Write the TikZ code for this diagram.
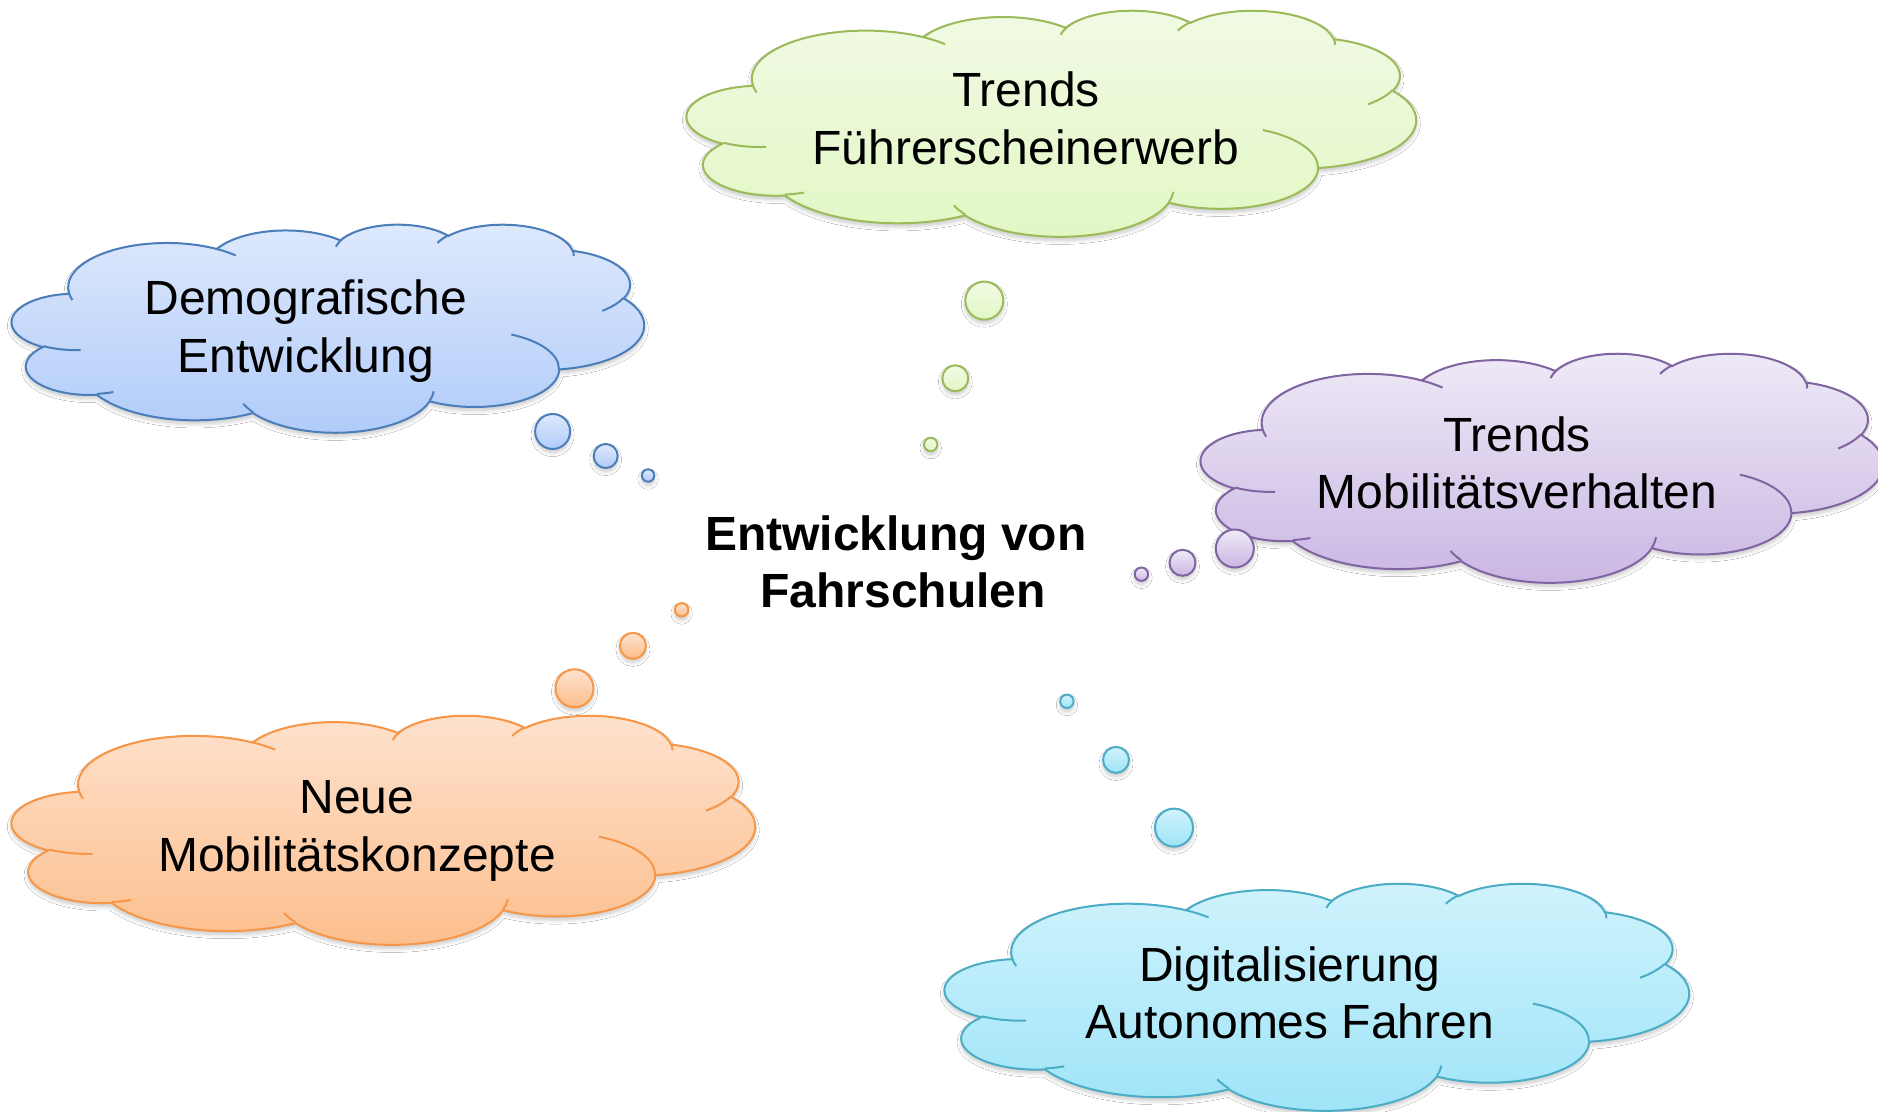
\documentclass[tikz,border=0pt]{standalone}
\usepackage{fontspec}
\setmainfont{Liberation Sans}
\usetikzlibrary{shadows.blur}
\definecolor{gstroke}{HTML}{9BBB59}\definecolor{gtop}{HTML}{F1FAE4}\definecolor{gbot}{HTML}{E2F7C4}
\definecolor{bstroke}{HTML}{4A7EBB}\definecolor{btop}{HTML}{DEE9FC}\definecolor{bbot}{HTML}{B0CBF9}
\definecolor{pstroke}{HTML}{8064A2}\definecolor{ptop}{HTML}{EFEAF7}\definecolor{pbot}{HTML}{C9B6E3}
\definecolor{ostroke}{HTML}{F79646}\definecolor{otop}{HTML}{FEE2CE}\definecolor{obot}{HTML}{FCBE8C}
\definecolor{cstroke}{HTML}{4BACC6}\definecolor{ctop}{HTML}{D0F3FC}\definecolor{cbot}{HTML}{9EE4F8}
\makeatletter
\newcommand\addcloudarc[5]{%
  \pgfmathparse{atan2((#2)*sin(#4),(#3)*cos(#4))}\let\cl@ta\pgfmathresult
  \pgfmathparse{atan2((#2)*sin((#4)+(#5)),(#3)*cos((#4)+(#5)))}\let\cl@tb\pgfmathresult
  \pgfmathparse{mod(\cl@tb-\cl@ta+720,360)}\let\cl@td\pgfmathresult
  \xdef#1{#1 arc[start angle=\cl@ta, delta angle=\cl@td, x radius=#2, y radius=#3]}%
}
\newcommand\addcloudpt[3]{\xdef#1{#1 (#2,#3)}}
\gdef\cloudmain{(3.9,14.37)}
\addcloudarc\cloudmain{6.753}{9.19}{-190.487483}{123.780533}
\addcloudarc\cloudmain{5.333}{7.267}{-144.102383}{89.945233}
\addcloudarc\cloudmain{4.365}{5.945}{-145.807917}{99.723017}
\addcloudarc\cloudmain{4.857}{6.595}{-130.986067}{117.241733}
\addcloudarc\cloudmain{5.333}{7.273}{-78.708883}{109.026917}
\addcloudarc\cloudmain{6.775}{9.22}{-46.26725}{130.269}
\addcloudarc\cloudmain{5.785}{7.867}{0.625017}{114.033333}
\addcloudarc\cloudmain{6.752}{9.215}{22.4516}{115.17255}
\addcloudarc\cloudmain{7.72}{10.543}{66.242633}{75.711017}
\addcloudarc\cloudmain{4.36}{5.918}{-274.942083}{146.735567}
\addcloudarc\cloudmain{4.345}{5.945}{-246.8285}{152.51695}
\gdef\cloudinner{}
\addcloudpt\cloudinner{4.693}{26.177}\addcloudarc\cloudinner{4.345}{5.945}{86.742}{26.4295}
\addcloudpt\cloudinner{6.928}{34.899}\addcloudarc\cloudinner{4.36}{5.918}{73.61047}{11.44747}
\addcloudpt\cloudinner{16.478}{39.09}\addcloudarc\cloudinner{6.752}{9.215}{137.62415}{14.0811}
\addcloudpt\cloudinner{28.827}{34.751}\addcloudarc\cloudinner{6.752}{9.215}{6.45327}{15.99835}
\addcloudpt\cloudinner{34.129}{22.954}\addcloudarc\cloudinner{5.785}{7.867}{-70.29235}{70.91737}
\addcloudpt\cloudinner{41.798}{15.354}\addcloudarc\cloudinner{5.333}{7.273}{30.31803}{27.7515}
\addcloudpt\cloudinner{38.324}{5.426}\addcloudarc\cloudinner{4.857}{6.595}{-13.74433}{14.8589}
\addcloudpt\cloudinner{29.078}{3.952}\addcloudarc\cloudinner{4.857}{6.595}{-149.18145}{18.19537}
\addcloudpt\cloudinner{22.141}{4.72}\addcloudarc\cloudinner{4.365}{5.945}{-163.49427}{17.68635}
\addcloudpt\cloudinner{14.0}{5.192}\addcloudarc\cloudinner{6.753}{9.19}{-66.70695}{12.31935}
\addcloudpt\cloudinner{4.127}{15.789}\addcloudarc\cloudinner{6.753}{9.19}{157.65435}{11.85817}
% x0 y0 W H stroke top bottom
\newcommand\drawcloud[7]{%
  \pgfmathsetmacro\cl@sx{#3/43.2*0.5}%
  \pgfmathsetmacro\cl@sy{#4/43.2*0.5}%
  \begin{scope}[shift={(#1,#2)}, x=\cl@sx pt, y=-\cl@sy pt]
    \path[draw=#5, cloudline, softshadow, top color=#6, bottom color=#7] \cloudmain -- cycle;
    \draw[#5, cloudline] \cloudinner;
  \end{scope}}
% x y r stroke top bottom
\newcommand\bubble[6]{%
  \path[draw=#4, cloudline, softshadow, top color=#5, bottom color=#6] (#1,#2) circle[radius=#3];}
\makeatother
\begin{document}
\begin{tikzpicture}[x=0.5pt,y=-0.5pt,
  cloudline/.style={line width=1pt},
  softshadow/.style={blur shadow={shadow xshift=0pt, shadow yshift=-1.8pt, shadow blur radius=2pt, shadow opacity=22, shadow blur steps=6}},
  cloudtext/.style={font=\fontsize{24}{28.8}\selectfont, align=center, text=black, inner sep=0pt},
  centertext/.style={font=\fontsize{24}{28.8}\selectfont\bfseries, align=center, text=black, inner sep=0pt}]
\useasboundingbox[fill=white] (0,0) rectangle (1878,1112);
% clouds
\drawcloud{687}{10}{729}{226}{gstroke}{gtop}{gbot}
\drawcloud{12}{224}{632}{208}{bstroke}{btop}{bbot}
\drawcloud{1201}{353}{682}{229}{pstroke}{ptop}{pbot}
\drawcloud{12}{715}{743}{229}{ostroke}{otop}{obot}
\drawcloud{945}{883}{744}{227}{cstroke}{ctop}{cbot}
% thought bubbles
\bubble{984.3}{300.6}{19}{gstroke}{gtop}{gbot}
\bubble{955.3}{378.3}{13}{gstroke}{gtop}{gbot}
\bubble{930.7}{444.5}{6.7}{gstroke}{gtop}{gbot}
\bubble{552.6}{431.5}{17.5}{bstroke}{btop}{bbot}
\bubble{605.7}{456}{12}{bstroke}{btop}{bbot}
\bubble{648.1}{475.5}{6.2}{bstroke}{btop}{bbot}
\bubble{1234.8}{548.5}{19}{pstroke}{ptop}{pbot}
\bubble{1182.5}{562.8}{13}{pstroke}{ptop}{pbot}
\bubble{1141.4}{574.2}{6.7}{pstroke}{ptop}{pbot}
\bubble{574.5}{688.3}{19}{ostroke}{otop}{obot}
\bubble{632.9}{645.8}{13}{ostroke}{otop}{obot}
\bubble{681.6}{609.8}{6.7}{ostroke}{otop}{obot}
\bubble{1174}{827.6}{19}{cstroke}{ctop}{cbot}
\bubble{1116}{759.9}{13}{cstroke}{ctop}{cbot}
\bubble{1066.9}{701.3}{6.7}{cstroke}{ctop}{cbot}
% texts
\node[cloudtext] (fuehrerschein) at (1026,118.5) {Trends\\Führerscheinerwerb};
\node[cloudtext] (demografie) at (306,331) {Demografische\\Entwicklung};
\node[cloudtext] (mobverhalten) at (1517,463) {Trends\\Mobilitätsverhalten};
\node[cloudtext] (mobkonzepte) at (357,831) {Neue\\Mobilitätskonzepte};
\node[cloudtext] (digital) at (1290,993) {Digitalisierung\\Autonomes Fahren};
\node[centertext] (zentrum) at (903,562) {Entwicklung von\kern0.3em\\Fahrschulen};
\end{tikzpicture}
\end{document}
